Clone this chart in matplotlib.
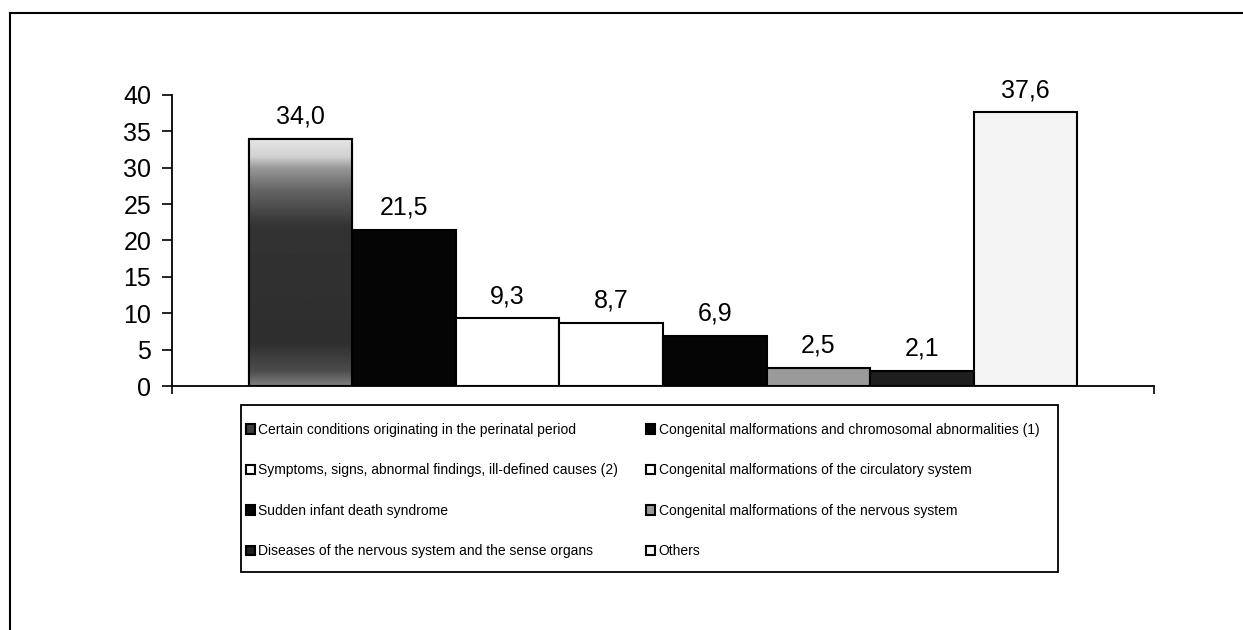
import numpy as np
import matplotlib.pyplot as plt
from matplotlib.lines import Line2D
from matplotlib.patches import Rectangle

plt.rcParams['font.family'] = ['Liberation Sans', 'DejaVu Sans']

# Infant deaths by cause (%)
labels = [
    'Certain conditions originating in the perinatal period',
    'Congenital malformations and chromosomal abnormalities (1)',
    'Symptoms, signs, abnormal findings, ill-defined causes (2)',
    'Congenital malformations of the circulatory system',
    'Sudden infant death syndrome',
    'Congenital malformations of the nervous system',
    'Diseases of the nervous system and the sense organs',
    'Others',
]
values = [34.0, 21.5, 9.3, 8.7, 6.9, 2.5, 2.1, 37.6]
colors = ['#3c3c3c', '#050505', '#ffffff', '#ffffff', '#050505', '#9a9a9a', '#1e1e1e', '#f4f4f4']

W, H = 1243, 630
fig = plt.figure(figsize=(W / 100, H / 100), dpi=100)
ax = fig.add_axes([172 / W, (H - 386) / H, 982 / W, 291 / H])

group = 0.844
w = group / len(values)
xs = -0.5 + (1 - group) / 2 + w * (np.arange(len(values)) + 0.5)
bars = ax.bar(xs, values, width=w, color=colors, edgecolor='black', linewidth=1.5, zorder=2)

# first bar: dark body, light speckled top
grad = np.interp(np.linspace(0, 34, 200), [0, 2, 6, 22, 27, 30, 31.5, 34],
                 [0.5, 0.3, 0.18, 0.2, 0.4, 0.6, 0.82, 0.9])
b0 = bars[0]
img = ax.imshow(grad[:, None], cmap='gray', vmin=0, vmax=1, origin='lower', aspect='auto',
                extent=[b0.get_x(), b0.get_x() + w, 0, values[0]], zorder=2.5)
img.set_clip_path(b0)
ax.bar(xs[0], values[0], width=w, fill=False, edgecolor='black', linewidth=1.5, zorder=3)

for x, v in zip(xs, values):
    ax.annotate(f'{v:.1f}'.replace('.', ','), (x, v), xytext=(0, 11), textcoords='offset points',
                ha='center', va='baseline', fontsize=18)

ax.set_xlim(-0.5, 0.5)
ax.set_ylim(0, 40)
ax.set_yticks(range(0, 41, 5))
ax.set_xticks([-0.5, 0.5])
ax.set_xticklabels([])
ax.tick_params(axis='y', labelsize=18, length=7, width=1.2, pad=8, direction='out')
ax.tick_params(axis='x', length=6, width=1.2, direction='out')
for s in ['top', 'right']:
    ax.spines[s].set_visible(False)
for s in ['left', 'bottom']:
    ax.spines[s].set_linewidth(1.3)

order = [0, 2, 4, 6, 1, 3, 5, 7]
leg = fig.legend([bars[i] for i in order], [labels[i] for i in order], ncol=2,
                 loc='upper left', bbox_to_anchor=(246 / W, 1 - 423 / H),
                 fontsize=10, frameon=False,
                 handlelength=0.65, handleheight=0.65, handletextpad=0.25, labelspacing=1.9,
                 borderaxespad=0, borderpad=0, columnspacing=2.0)

# legend box
fig.add_artist(Rectangle((241 / W, 1 - 572 / H), (1058 - 241) / W, (572 - 405) / H,
                         transform=fig.transFigure, fill=False, edgecolor='black', lw=1.3))

# outer frame
fig.add_artist(Line2D([10 / W, 1], [1 - 13 / H, 1 - 13 / H], color='black', lw=1.5))
fig.add_artist(Line2D([10 / W, 10 / W], [0, 1 - 13 / H], color='black', lw=1.5))

fig.savefig('out.png', dpi=100)
